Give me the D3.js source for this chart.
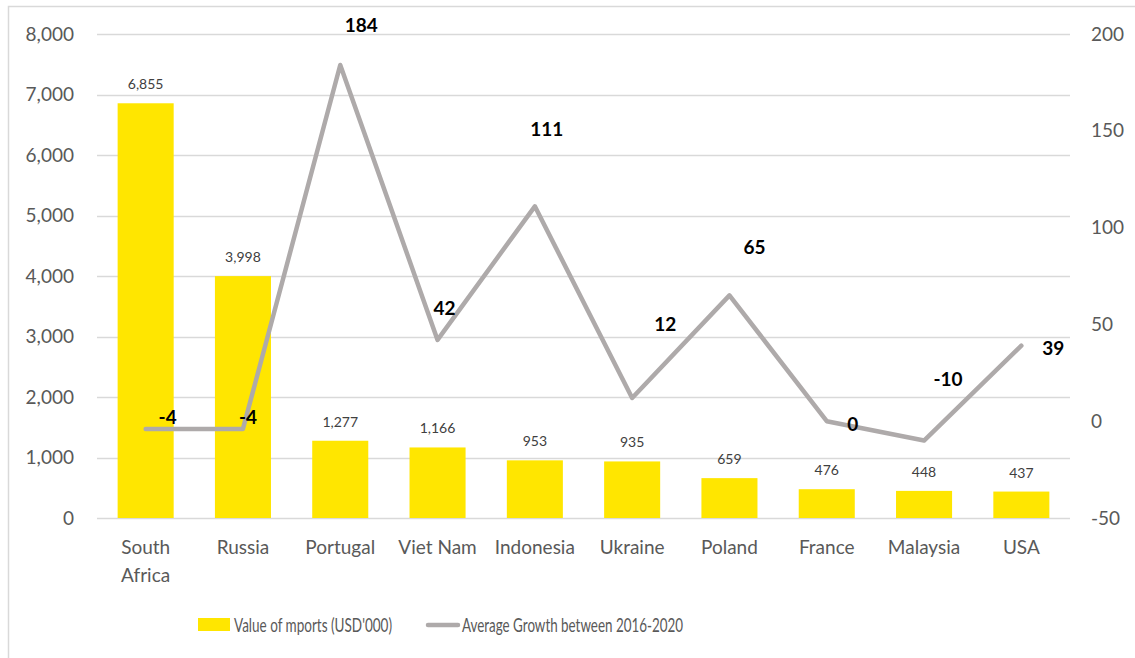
<!DOCTYPE html>
<html>
<head>
<meta charset="utf-8">
<script src="https://cdn.jsdelivr.net/npm/d3@7"></script>
<style>
  body { margin: 0; background: #fff; }
  text { font-family: Lato, "Open Sans", sans-serif; }
</style>
</head>
<body>
<div id="chart"></div>
<script>
// Data
const countries = ["South Africa", "Russia", "Portugal", "Viet Nam", "Indonesia", "Ukraine", "Poland", "France", "Malaysia", "USA"];
const importValues = [6855, 3998, 1277, 1166, 953, 935, 659, 476, 448, 437];
const avgGrowth = [-4, -4, 184, 42, 111, 12, 65, 0, -10, 39];
const leftTicks = [0, 1000, 2000, 3000, 4000, 5000, 6000, 7000, 8000];
const rightTicks = [-50, 0, 50, 100, 150, 200];
const seriesNames = ["Value of mports (USD'000)", "Average Growth between 2016-2020"];

// manual nudges of the growth labels (dx, dy in px), as placed in the original
const growthLabelNudge = [[22, -12], [5, -12], [21, -40], [7, -32], [12, -77], [33, -74], [25, -48], [26, 3], [24, -61], [32, 3]];

const width = 1135, height = 658;
const plotLeft = 97, plotRight = 1070, plotTop = 34, plotBottom = 518;
const yellow = "#FFE600", lineGray = "#AEAAAA", textGray = "#595959";

const svg = d3.select('#chart')
  .append('svg')
    .attr('width', width)
    .attr('height', height);

// outer chart border (right and bottom run off the picture)
svg.append('rect')
    .attr('x', 8.5).attr('y', 6.5)
    .attr('width', width + 20).attr('height', height + 20)
    .attr('fill', 'none')
    .attr('stroke', '#D9D9D9')
    .attr('stroke-width', 1.5);

const x = d3.scaleBand()
  .domain(countries)
  .range([plotLeft, plotRight])
  .paddingInner(0.424)
  .paddingOuter(0.212);

const yLeft = d3.scaleLinear().domain([0, 8000]).range([plotBottom, plotTop]);
const yRight = d3.scaleLinear().domain([-50, 200]).range([plotBottom, plotTop]);

// gridlines
svg.append('g')
  .selectAll('line')
  .data(leftTicks)
  .join('line')
    .attr('x1', plotLeft).attr('x2', plotRight)
    .attr('y1', d => Math.round(yLeft(d)) + 0.5)
    .attr('y2', d => Math.round(yLeft(d)) + 0.5)
    .attr('stroke', '#D9D9D9')
    .attr('stroke-width', 1.5);

// left axis labels
svg.append('g')
  .selectAll('text')
  .data(leftTicks)
  .join('text')
    .attr('x', 74)
    .attr('y', d => yLeft(d))
    .attr('dy', '0.35em')
    .attr('text-anchor', 'end')
    .attr('fill', textGray)
    .attr('font-size', 19)
    .text(d => d3.format(',')(d));

// right axis labels
svg.append('g')
  .selectAll('text')
  .data(rightTicks)
  .join('text')
    .attr('x', 1091)
    .attr('y', d => yRight(d))
    .attr('dy', '0.35em')
    .attr('fill', textGray)
    .attr('font-size', 19)
    .text(d => d);

// bars
const rows = countries.map((c, i) => ({ country: c, value: importValues[i], growth: avgGrowth[i], nudge: growthLabelNudge[i] }));

svg.append('g')
  .selectAll('rect')
  .data(rows)
  .join('rect')
    .attr('x', d => x(d.country))
    .attr('y', d => yLeft(d.value))
    .attr('width', x.bandwidth())
    .attr('height', d => plotBottom - yLeft(d.value))
    .attr('fill', yellow);

// bar value labels
svg.append('g')
  .selectAll('text')
  .data(rows)
  .join('text')
    .attr('x', d => x(d.country) + x.bandwidth() / 2)
    .attr('y', d => yLeft(d.value) - 14)
    .attr('text-anchor', 'middle')
    .attr('fill', '#404040')
    .attr('font-size', 14)
    .text(d => d3.format(',')(d.value));

// growth line
const cx = d => x(d.country) + x.bandwidth() / 2;
const line = d3.line()
  .x(cx)
  .y(d => yRight(d.growth));

svg.append('path')
    .datum(rows)
    .attr('d', line)
    .attr('fill', 'none')
    .attr('stroke', lineGray)
    .attr('stroke-width', 4.5)
    .attr('stroke-linejoin', 'round')
    .attr('stroke-linecap', 'round');

// growth labels
svg.append('g')
  .selectAll('text')
  .data(rows)
  .join('text')
    .attr('x', d => cx(d) + d.nudge[0])
    .attr('y', d => yRight(d.growth) + d.nudge[1])
    .attr('dy', '0.35em')
    .attr('text-anchor', 'middle')
    .attr('font-weight', 'bold')
    .attr('font-size', 19)
    .attr('fill', '#000')
    .text(d => d.growth);

// category labels (wrap two-word names that don't fit)
const catLabels = svg.append('g')
  .selectAll('text')
  .data(countries)
  .join('text')
    .attr('x', d => x(d) + x.bandwidth() / 2)
    .attr('y', 554)
    .attr('text-anchor', 'middle')
    .attr('fill', textGray)
    .attr('font-size', 19);

catLabels.each(function (d) {
  const parts = d === 'South Africa' ? d.split(' ') : [d];
  d3.select(this).selectAll('tspan')
    .data(parts)
    .join('tspan')
      .attr('x', x(d) + x.bandwidth() / 2)
      .attr('dy', (p, i) => i === 0 ? 0 : 28)
      .text(p => p);
});

// legend
const legend = svg.append('g');
legend.append('rect')
    .attr('x', 198).attr('y', 618)
    .attr('width', 32).attr('height', 13)
    .attr('fill', yellow);
legend.append('text')
    .attr('x', 234).attr('y', 625)
    .attr('dy', '0.35em')
    .attr('fill', textGray)
    .attr('font-size', 19)
    .attr('textLength', 158)
    .attr('lengthAdjust', 'spacingAndGlyphs')
    .text(seriesNames[0]);
legend.append('line')
    .attr('x1', 428).attr('x2', 458)
    .attr('y1', 625).attr('y2', 625)
    .attr('stroke', lineGray)
    .attr('stroke-width', 4.5)
    .attr('stroke-linecap', 'round');
legend.append('text')
    .attr('x', 462).attr('y', 625)
    .attr('dy', '0.35em')
    .attr('fill', textGray)
    .attr('font-size', 19)
    .attr('textLength', 221)
    .attr('lengthAdjust', 'spacingAndGlyphs')
    .text(seriesNames[1]);
</script>
</body>
</html>
